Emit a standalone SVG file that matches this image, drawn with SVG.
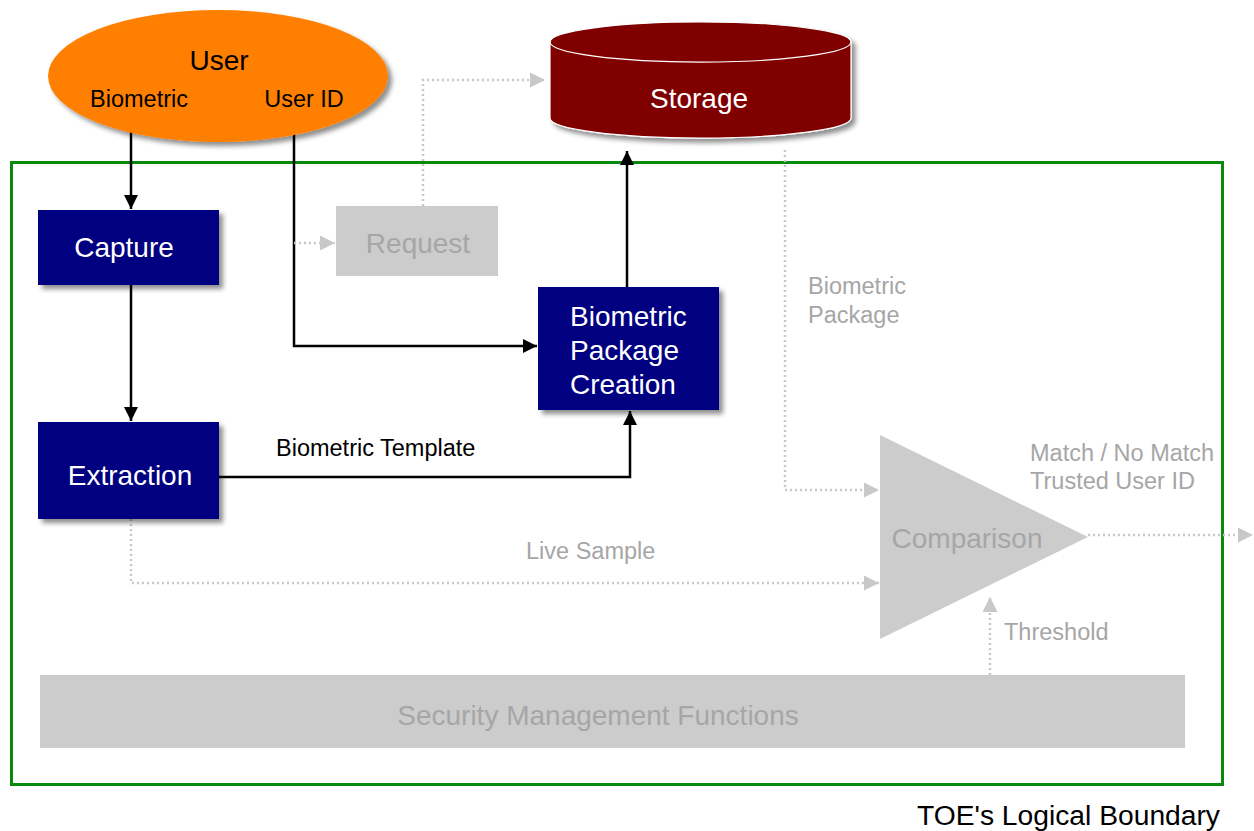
<svg xmlns="http://www.w3.org/2000/svg" width="1254" height="831" viewBox="0 0 1254 831">
<style>
text{font-family:"Liberation Sans",Arial,sans-serif;}
.wt{fill:#fff;font-size:28px;text-anchor:middle;}
.wl{fill:#fff;font-size:28px;}
.gt{fill:#a6a6a6;font-size:23.5px;}
.bt{fill:#000;font-size:23.5px;}
.solid{fill:none;stroke:#000;stroke-width:2.5;}
.dot{fill:none;stroke:#c8c8c8;stroke-width:2.5;stroke-dasharray:2 3;}
.navy{fill:#000080;filter:url(#sh);}
.grey{fill:#cccccc;}
</style>
<defs>
<filter id="sh" x="-20%" y="-20%" width="140%" height="140%">
<feGaussianBlur in="SourceAlpha" stdDeviation="2.5"/>
<feOffset dx="4" dy="4" result="b"/>
<feComponentTransfer><feFuncA type="linear" slope="0.45"/></feComponentTransfer>
<feMerge><feMergeNode/><feMergeNode in="SourceGraphic"/></feMerge>
</filter>
<marker id="ab" viewBox="0 0 10 10" refX="10" refY="5" markerWidth="14" markerHeight="14" markerUnits="userSpaceOnUse" orient="auto">
<path d="M0,0 L10,5 L0,10 z" fill="#000"/>
</marker>
<marker id="ag" viewBox="0 0 10 10" refX="10" refY="5" markerWidth="16" markerHeight="15" markerUnits="userSpaceOnUse" orient="auto">
<path d="M0,0 L10,5 L0,10 z" fill="#c8c8c8"/>
</marker>
</defs>
<rect width="1254" height="831" fill="#fff"/>

<g id="boundary">
<rect x="11.5" y="162.5" width="1211" height="622" fill="none" stroke="#0a8a0a" stroke-width="3"/>
<text x="1220" y="825" class="bt" style="font-size:27px;text-anchor:end" textLength="303" lengthAdjust="spacingAndGlyphs">TOE's Logical Boundary</text>
</g>

<g id="security-management">
<rect x="40" y="675" width="1145" height="73" class="grey"/>
<text x="598" y="725" class="gt" style="font-size:28px;text-anchor:middle">Security Management Functions</text>
</g>

<g id="connectors">
<path d="M131,120 V209" class="solid" marker-end="url(#ab)"/>
<path d="M131,285 V421" class="solid" marker-end="url(#ab)"/>
<path d="M294,120 V346 H537" class="solid" marker-end="url(#ab)"/>
<path d="M219,477 H630 V411" class="solid" marker-end="url(#ab)"/>
<path d="M627,287 V151" class="solid" marker-end="url(#ab)"/>
<path d="M294,243 H335" class="dot" marker-end="url(#ag)"/>
<path d="M423,206 V80 H545" class="dot" marker-end="url(#ag)"/>
<path d="M785,150 V490 H879" class="dot" marker-end="url(#ag)"/>
<path d="M131,519 V583 H879" class="dot" marker-end="url(#ag)"/>
<path d="M990,675 V597" class="dot" marker-end="url(#ag)"/>
<path d="M1088,535 H1253" class="dot" marker-end="url(#ag)"/>
<text x="276" y="456" class="bt">Biometric Template</text>
<text x="526" y="559" class="gt">Live Sample</text>
<text x="808" y="294" class="gt">Biometric</text>
<text x="808" y="323" class="gt">Package</text>
<text x="1030" y="461" class="gt">Match / No Match</text>
<text x="1030" y="489" class="gt">Trusted User ID</text>
<text x="1004" y="640" class="gt">Threshold</text>
</g>

<g id="user">
<ellipse cx="218" cy="76" rx="170" ry="66" fill="#ff8000" filter="url(#sh)"/>
<text x="219" y="70" class="bt" style="font-size:28px;text-anchor:middle">User</text>
<text x="139" y="107" class="bt" style="text-anchor:middle">Biometric</text>
<text x="304" y="107" class="bt" style="text-anchor:middle">User ID</text>
</g>

<g id="storage">
<g filter="url(#sh)">
<path d="M550,42 V118 A150,20 0 0 0 851,118 V42 A150,20 0 0 0 550,42 z" fill="#800000" stroke="#fff" stroke-width="1.2"/>
<path d="M550,42 A150,20 0 0 0 851,42" fill="none" stroke="#fff" stroke-width="1.2"/>
</g>
<text x="699" y="108" class="wt">Storage</text>
</g>

<g id="capture">
<rect x="38" y="210" width="181" height="75" class="navy"/>
<text x="124" y="257" class="wt">Capture</text>
</g>

<g id="request">
<rect x="336" y="206" width="162" height="70" class="grey"/>
<text x="418" y="253" class="gt" style="font-size:28px;text-anchor:middle">Request</text>
</g>

<g id="bpc">
<rect x="538" y="287" width="181" height="123" class="navy"/>
<text x="570" y="326" class="wl">Biometric</text>
<text x="570" y="360" class="wl">Package</text>
<text x="570" y="394" class="wl">Creation</text>
</g>

<g id="extraction">
<rect x="38" y="422" width="181" height="97" class="navy"/>
<text x="130" y="485" class="wt">Extraction</text>
</g>

<g id="comparison">
<path d="M880,435 L1088,537 L880,639 z" class="grey"/>
<text x="967" y="548" class="gt" style="font-size:28px;text-anchor:middle">Comparison</text>
</g>
</svg>
